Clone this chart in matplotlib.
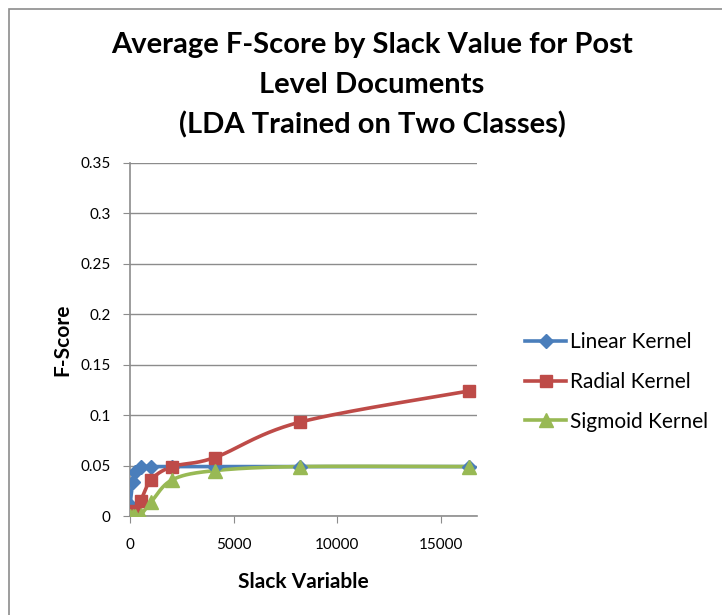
import matplotlib
matplotlib.use("Agg")
import matplotlib.pyplot as plt
import numpy as np
from matplotlib.patches import Rectangle
from matplotlib import font_manager

slack = [1, 128, 256, 512, 1024, 2048, 4096, 8192, 16384]
linear = [0.011, 0.034, 0.044, 0.049, 0.049, 0.049, 0.049, 0.049, 0.049]
radial = [0.002, 0.003, 0.005, 0.015, 0.036, 0.049, 0.058, 0.093, 0.124]
sigmoid = [0.0, 0.0, 0.0, 0.001, 0.014, 0.036, 0.045, 0.049, 0.049]
series_names = ["Linear Kernel", "Radial Kernel", "Sigmoid Kernel"]
title_lines = ["Average F-Score by Slack Value for Post", "Level Documents",
               "(LDA Trained on Two Classes)"]

names = {f.name for f in font_manager.fontManager.ttflist}
fam = "Lato" if "Lato" in names else "DejaVu Sans"
plt.rcParams['font.family'] = [fam, 'DejaVu Sans']

def smooth(x, y, n=30):
    x = np.asarray(x, float); y = np.asarray(y, float)
    px = np.concatenate([[x[0]], x, [x[-1]]])
    py = np.concatenate([[y[0]], y, [y[-1]]])
    xs, ys = [], []
    for i in range(1, len(px) - 2):
        p0, p1, p2, p3 = (np.array([px[j], py[j]]) for j in (i - 1, i, i + 1, i + 2))
        c1 = p1 + (p2 - p0) / 6.0
        c2 = p2 - (p3 - p1) / 6.0
        t = np.linspace(0, 1, n)[:, None]
        pts = (1 - t) ** 3 * p1 + 3 * (1 - t) ** 2 * t * c1 + 3 * (1 - t) * t ** 2 * c2 + t ** 3 * p2
        xs.append(pts[:, 0]); ys.append(pts[:, 1])
    return np.concatenate(xs), np.concatenate(ys)

W, H = 722, 615
fig = plt.figure(figsize=(W / 100, H / 100), dpi=100)
fig.patches.append(Rectangle((9 / W, -0.1), 1.2, 1 - 9 / H + 0.1, transform=fig.transFigure,
                             fill=False, edgecolor="#8c8c8c", linewidth=1.2))

ax = fig.add_axes([130 / W, 1 - 516 / H, (477 - 130) / W, (516 - 163) / H])

colors = ["#4A7EBB", "#BE4B48", "#98B954"]
markers = ["D", "s", "^"]
msizes = [7, 9, 9.5]
data = [linear, radial, sigmoid]
for vals, c, m, ms, name in zip(data, colors, markers, msizes, series_names):
    sx, sy = smooth(slack, vals)
    ax.plot(sx, sy, color=c, lw=2.6, zorder=3, solid_capstyle="round")
    ax.plot(slack, vals, linestyle="none", marker=m, color=c, markersize=ms, zorder=4)
    ax.plot([], [], color=c, lw=2.6, marker=m, markersize=ms, label=name)

ax.set_xlim(0, 16750)
ax.set_ylim(0, 0.35)
ax.set_yticks(np.arange(0, 0.351, 0.05))
ax.set_yticklabels(["0", "0.05", "0.1", "0.15", "0.2", "0.25", "0.3", "0.35"])
ax.set_xticks([0, 5000, 10000, 15000])
ax.set_xticklabels(["0", "5000", "10000", "15000"])
ax.grid(axis="y", color="#8c8c8c", lw=1)
ax.set_axisbelow(True)
for s in ["top", "right"]:
    ax.spines[s].set_visible(False)
for s in ["left", "bottom"]:
    ax.spines[s].set_color("#8c8c8c")
    ax.spines[s].set_linewidth(1.2)
ax.tick_params(axis="both", colors="#8c8c8c", labelcolor="black", labelsize=11, length=5, direction="out")
ax.tick_params(axis="y", pad=9)
ax.tick_params(axis="x", pad=11)

ax.set_xlabel("Slack Variable", fontsize=15, fontweight="bold", labelpad=14)
ax.set_ylabel("F-Score", fontsize=15, fontweight="bold", labelpad=6)

for i, line in enumerate(title_lines):
    fig.text(372 / W, 1 - (45 + 40 * i) / H, line, ha="center", va="center", fontsize=21,
             fontweight="bold")

leg = fig.legend(loc="center left", bbox_to_anchor=(506 / W, 1 - 382 / H), frameon=False,
                 fontsize=15, handlelength=2.0, labelspacing=0.95, handletextpad=0.15)

fig.savefig("out.png", dpi=100)
